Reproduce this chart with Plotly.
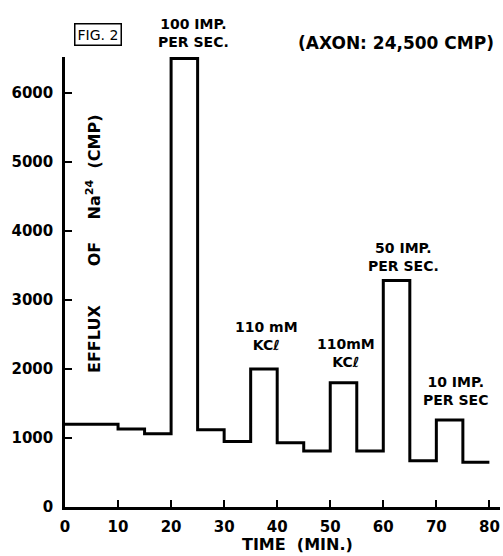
import plotly.graph_objects as go

# Segment start times (min) and the Na24 efflux level held over each segment (CMP)
seg_start = [0, 10, 15, 20, 25, 30, 35, 40, 45, 50, 55, 60, 65, 70, 75]
seg_end = 80
efflux = [1200, 1130, 1060, 6500, 1120, 950, 2000, 930, 810, 1800, 810, 3280, 670, 1260, 650]

x_ticks = [0, 10, 20, 30, 40, 50, 60, 70, 80]
y_ticks = [0, 1000, 2000, 3000, 4000, 5000, 6000]

# Stimulus labels inside the plot: (time centre, efflux at text bottom, text)
stim_x = [37.9, 53.0, 63.8, 73.6]
stim_y = [2200, 1960, 3350, 1400]
stim_text = ["110 mM<br>KCℓ", "110mM<br>KCℓ", "50 IMP.<br>PER SEC.", "10 IMP.<br>PER SEC"]

FONT = "DejaVu Sans"
L, T, PW, PH = 65, 57, 435, 450   # plot-area offsets in pixels


def px(x):
    return (x - L) / PW


def py(y):
    return 1 - (y - T) / PH


bold = dict(family=FONT, color="black", weight="bold")

fig = go.Figure()
fig.add_trace(go.Scatter(
    x=seg_start + [seg_end],
    y=efflux + [efflux[-1]],
    mode="lines",
    line=dict(color="black", width=3, shape="hv"),
    hoverinfo="skip",
    showlegend=False,
))

axis_common = dict(
    showgrid=False, zeroline=False, showline=True, linecolor="black", linewidth=2.5,
    ticks="inside", ticklen=7, tickwidth=2, tickcolor="black",
    tickfont=dict(size=15, **bold),
)

fig.update_xaxes(range=[0, 82], tickvals=x_ticks, ticklabelstandoff=4, **axis_common)
fig.update_yaxes(range=[0, 6520], tickvals=y_ticks, ticklabelstandoff=6, **axis_common)

for x, y, t in zip(stim_x, stim_y, stim_text):
    fig.add_annotation(x=x, y=y, xref="x", yref="y", text=t, showarrow=False,
                       xanchor="center", yanchor="bottom", font=dict(size=14, **bold))

# Label above the tall 20-25 min pulse, sitting above the plot area
fig.add_annotation(x=px(193), y=py(52), xref="paper", yref="paper",
                   text="100 IMP.<br>PER SEC.", showarrow=False,
                   xanchor="center", yanchor="bottom", font=dict(size=14, **bold))

fig.add_annotation(x=px(98), y=py(34), xref="paper", yref="paper", text="FIG. 2",
                   showarrow=False, xanchor="center", yanchor="middle",
                   bordercolor="black", borderwidth=1.5, borderpad=2,
                   font=dict(size=14, family=FONT, color="black"))
fig.add_annotation(x=px(396), y=py(43), xref="paper", yref="paper",
                   text="(AXON: 24,500 CMP)", showarrow=False,
                   xanchor="center", yanchor="middle", font=dict(size=17, **bold))
sp = "\u00a0"
fig.add_annotation(x=px(93), y=py(244), xref="paper", yref="paper",
                   text="EFFLUX" + sp * 7 + "OF" + sp * 4 + "Na<sup>24</sup>" + sp * 2 + "(CMP)",
                   textangle=-90, showarrow=False, xanchor="center", yanchor="middle",
                   font=dict(size=16, **bold))
fig.add_annotation(x=px(297), y=py(544), xref="paper", yref="paper",
                   text="TIME" + sp * 2 + "(MIN.)", showarrow=False,
                   xanchor="center", yanchor="middle", font=dict(size=16, **bold))

fig.update_layout(
    width=503, height=556,
    margin=dict(l=L, r=503 - L - PW, t=T, b=556 - T - PH),
    paper_bgcolor="white", plot_bgcolor="white",
)

fig.write_html("out.html")
